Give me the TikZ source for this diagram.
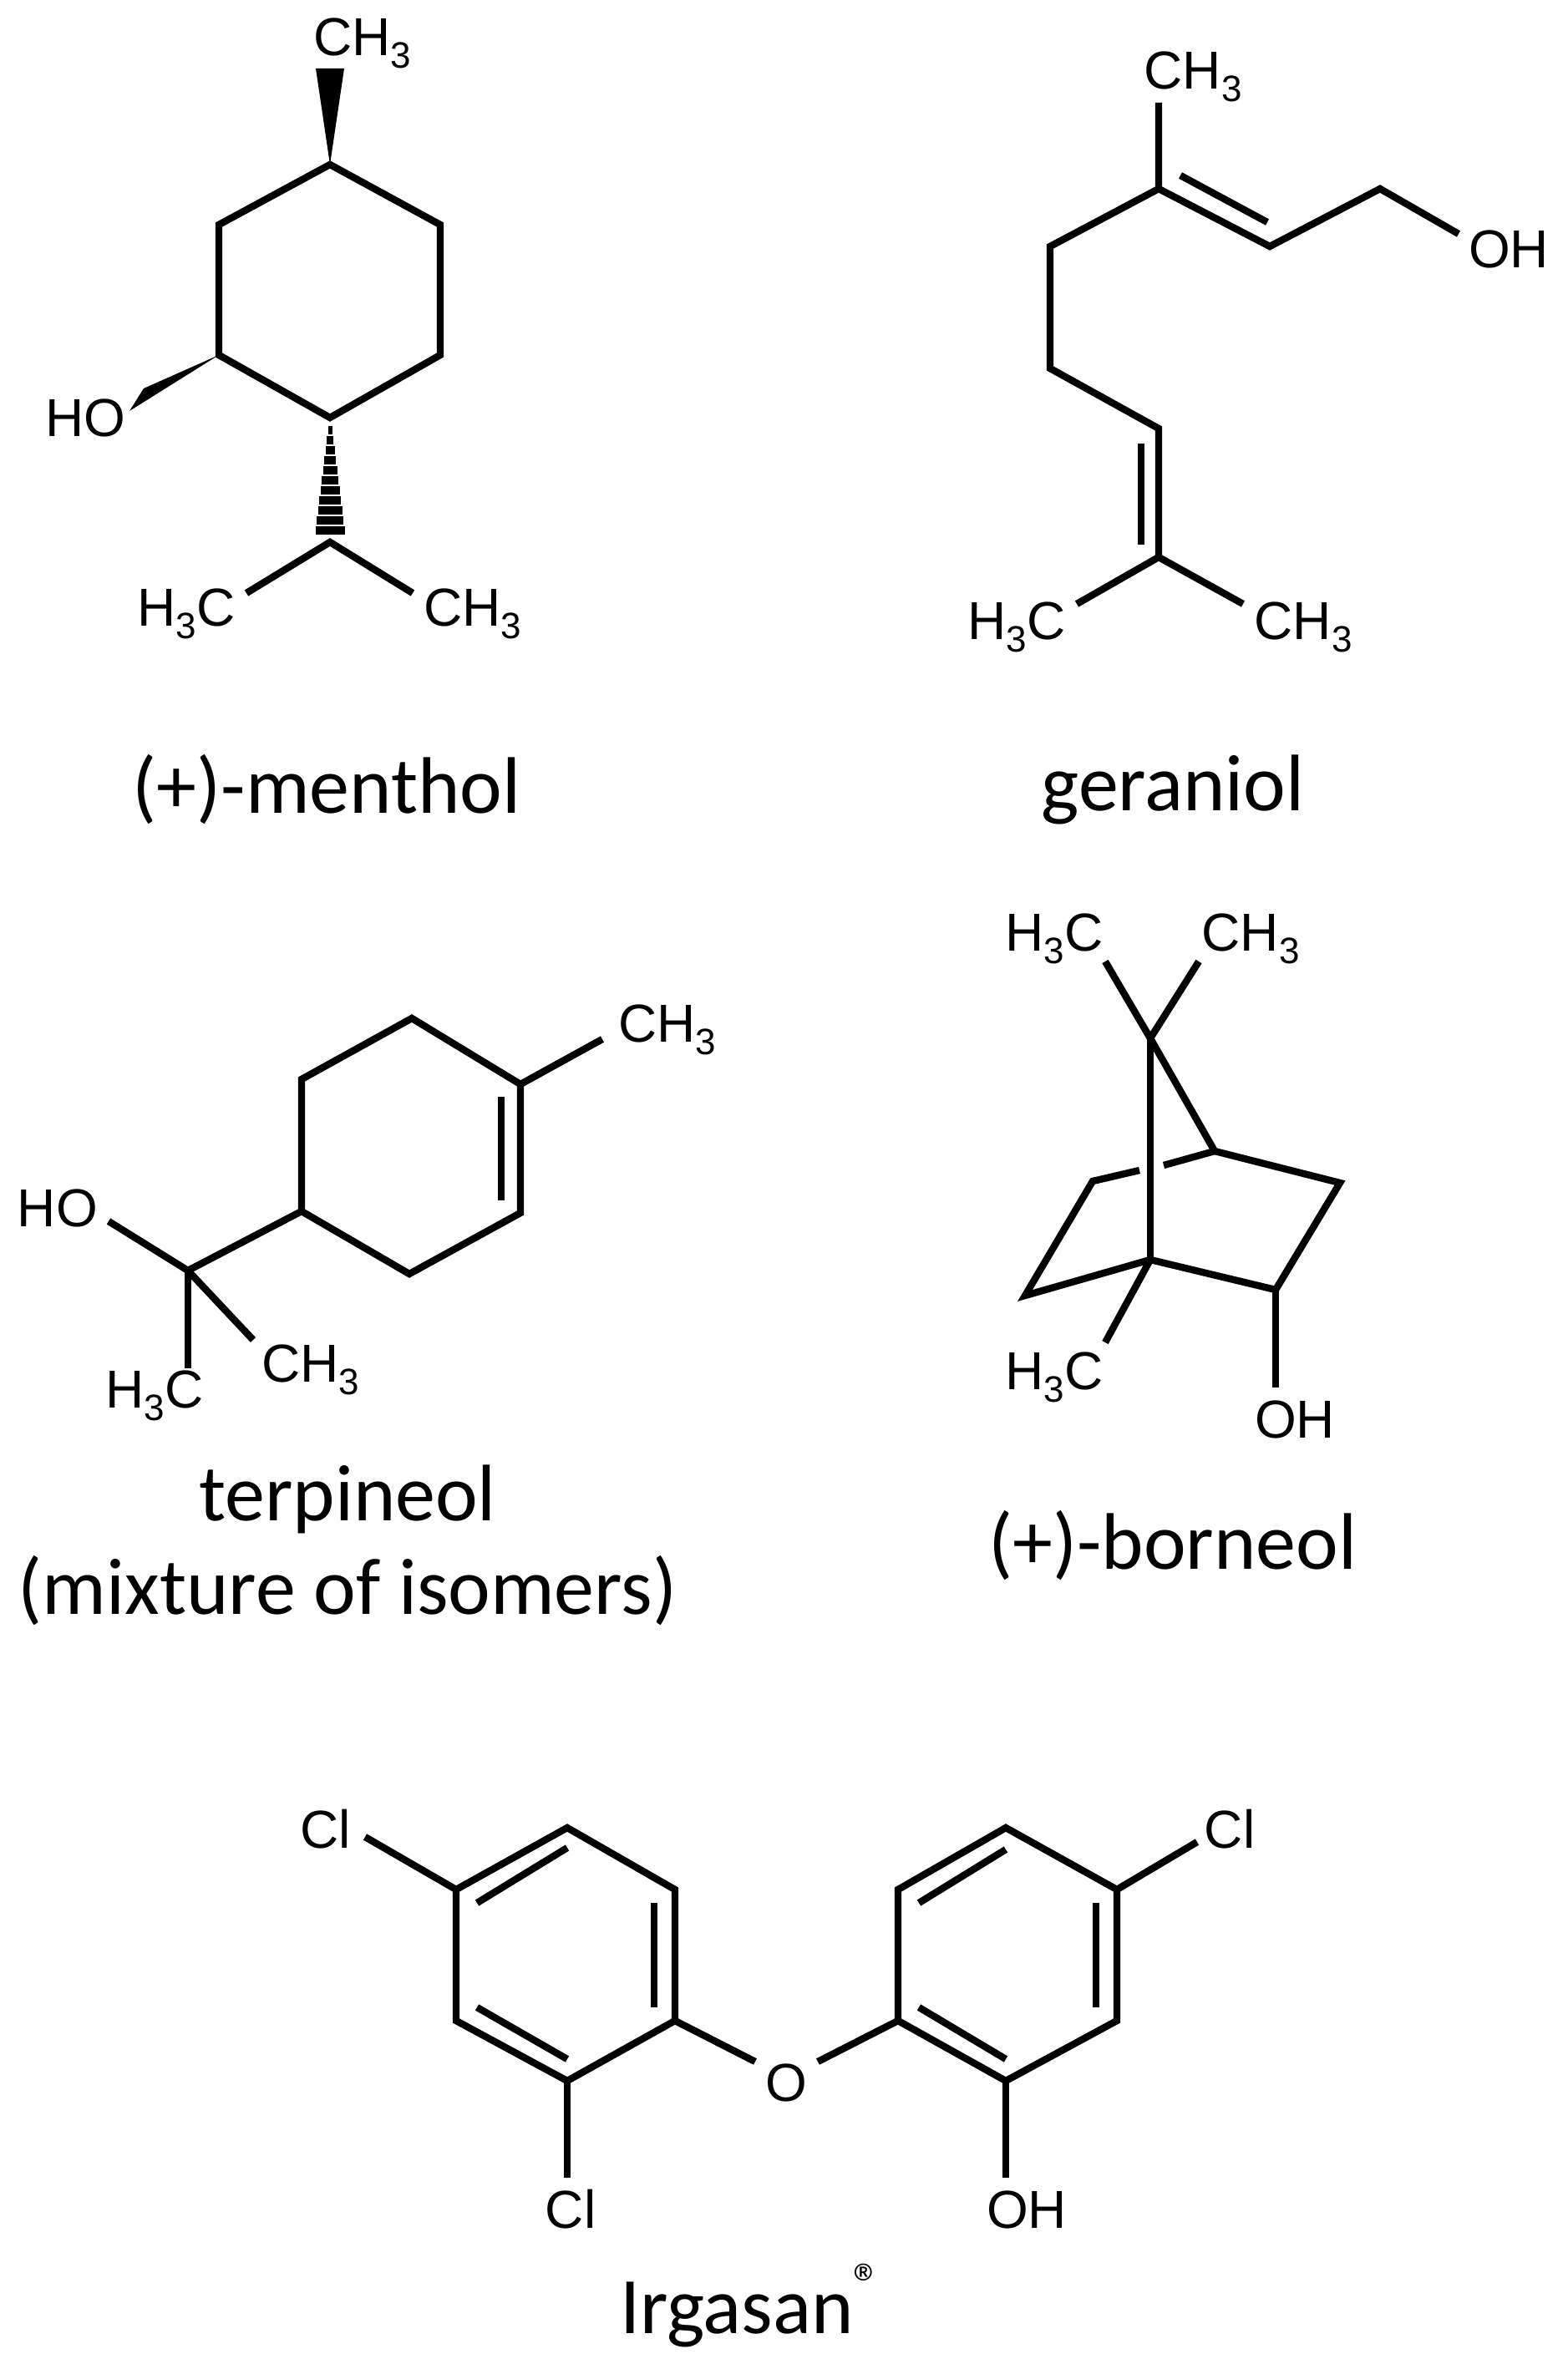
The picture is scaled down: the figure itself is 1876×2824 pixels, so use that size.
\documentclass[tikz,border=0pt]{standalone}
\usepackage{fontspec}
\setmainfont{Liberation Sans}
\newfontfamily\capfont{Carlito}
\newcommand{\lsub}[1]{\raisebox{-0.45ex}{\fontsize{11pt}{11pt}\selectfont #1}}
\begin{document}
\begin{tikzpicture}[x=0.25pt,y=-0.25pt,
  bond/.style={line width=2.1pt,line cap=butt,line join=miter},
  lab/.style={font=\fontsize{16pt}{16pt}\selectfont,inner sep=0pt},
  capt/.style={font=\capfont\fontsize{24pt}{28pt}\selectfont,inner sep=0pt,align=center}]
\useasboundingbox (0,0) rectangle (1876,2824);
% ---------- menthol ----------
\coordinate (m1) at (395,197); \coordinate (m2) at (527,269); \coordinate (m3) at (527,425);
\coordinate (m4) at (395,500); \coordinate (m5) at (262,425); \coordinate (m6) at (262,269);
\coordinate (mi) at (395,649);
\draw[bond] (m1)--(m2)--(m3)--(m4)--(m5)--(m6)--cycle;
\fill (m1) -- (378,82) -- (412,82) -- cycle;
\fill (m5) -- (172,465) -- (155,492) -- cycle;
\foreach \t in {0,1,...,10}{\draw[line width=2.6pt] ({395-2.5-1.5*\t},{515+12*\t}) -- ({395+2.5+1.5*\t},{515+12*\t});}
\draw[bond] (295,710) -- (mi) -- (494,710);
\node[lab] (mch3) at (434,52) {CH\lsub{3}};
\node[lab] (mho) at (102,500) {HO};
\node[lab] (mh3c) at (223,735) {H\lsub{3}C};
\node[lab] (mch3b) at (566,735) {CH\lsub{3}};
\node[capt] (cmen) at (391,945) {(+)-menthol};
% ---------- geraniol ----------
\coordinate (g3) at (1387,226); \coordinate (g2) at (1520,295); \coordinate (g1) at (1652,226);
\coordinate (g4) at (1257,295); \coordinate (g5) at (1257,441); \coordinate (g6) at (1387,513);
\coordinate (g7) at (1387,667);
\draw[bond] (1387,123) -- (g3) -- (g2) -- (g1) -- (1746,280);
\draw[bond] (g3) -- (g4) -- (g5) -- (g6) -- (g7);
\draw[bond] (1413,210) -- (1517,266);
\draw[bond] (1366,531) -- (1366,652);
\draw[bond] (1289,723) -- (g7) -- (1488,723);
\node[lab] (gch3) at (1428,92) {CH\lsub{3}};
\node[lab] (goh) at (1806,298) {OH};
\node[lab] (gh3c) at (1217,751) {H\lsub{3}C};
\node[lab] (gch3b) at (1560,751) {CH\lsub{3}};
\node[capt] (cger) at (1404,945) {geraniol};
% ---------- terpineol ----------
\coordinate (t1) at (493,1219); \coordinate (t2) at (623,1298); \coordinate (t3) at (623,1452);
\coordinate (t4) at (490,1525); \coordinate (t5) at (361,1450); \coordinate (t6) at (361,1292);
\coordinate (tq) at (225,1521);
\draw[bond] (t1)--(t2)--(t3)--(t4)--(t5)--(t6)--cycle;
\draw[bond] (600,1313) -- (600,1437);
\draw[bond] (t2) -- (721,1244);
\draw[bond] (t5) -- (tq) -- (130,1462);
\draw[bond] (tq) -- (303,1604);
\draw[bond] (tq) -- (225,1638);
\node[lab] (tch3) at (799,1233) {CH\lsub{3}};
\node[lab] (tho) at (69,1446) {HO};
\node[lab] (tch3b) at (372,1640) {CH\lsub{3}};
\node[lab] (th3c) at (185,1671) {H\lsub{3}C};
\node[capt] (cter) at (416,1850) {terpineol\\(mixture of isomers)};
% ---------- borneol ----------
\coordinate (b7) at (1377,1243); \coordinate (b1) at (1454,1378); \coordinate (b4) at (1377,1508);
\coordinate (b2) at (1604,1416); \coordinate (b3) at (1527,1544);
\coordinate (b5) at (1308,1414); \coordinate (b6) at (1227,1551);
\draw[bond] (1323,1151) -- (b7) -- (1435,1151);
\draw[bond] (b7) -- (b4);
\draw[bond] (b7) -- (b1) -- (b2) -- (b3) -- (b4);
\draw[bond] (b3) -- (1527,1661);
\draw[bond] (b4) -- (b6) -- (b5) -- (1364,1401);
\draw[bond] (1393,1395) -- (b1);
\draw[bond] (b4) -- (1323,1607);
\node[lab] (bh3c) at (1262,1124) {H\lsub{3}C};
\node[lab] (bch3) at (1497,1124) {CH\lsub{3}};
\node[lab] (bh3c2) at (1262,1649) {H\lsub{3}C};
\node[lab] (boh) at (1550,1699) {OH};
\node[capt] (cbor) at (1404,1850) {(+)-borneol};
% ---------- Irgasan ----------
\coordinate (a1) at (679,2188); \coordinate (a2) at (808,2262); \coordinate (a3) at (808,2419);
\coordinate (a4) at (679,2491); \coordinate (a5) at (546,2419); \coordinate (a6) at (546,2262);
\draw[bond] (a1)--(a2)--(a3)--(a4)--(a5)--(a6)--cycle;
\draw[bond] (571,2278) -- (679,2212);
\draw[bond] (783,2278) -- (783,2403);
\draw[bond] (571,2403) -- (679,2465);
\coordinate (r1) at (1204,2188); \coordinate (r2) at (1337,2262); \coordinate (r3) at (1337,2419);
\coordinate (r4) at (1204,2491); \coordinate (r5) at (1075,2419); \coordinate (r6) at (1075,2262);
\draw[bond] (r1)--(r2)--(r3)--(r4)--(r5)--(r6)--cycle;
\draw[bond] (1100,2278) -- (1204,2214);
\draw[bond] (1312,2278) -- (1312,2403);
\draw[bond] (1100,2403) -- (1204,2465);
\draw[bond] (a6) -- (437,2199);
\draw[bond] (a4) -- (679,2607);
\draw[bond] (a3) -- (904,2468);
\draw[bond] (979,2468) -- (r5);
\draw[bond] (r2) -- (1433,2205);
\draw[bond] (r4) -- (1204,2607);
\node[lab] (icl1) at (390,2190) {Cl};
\node[lab] (icl2) at (683,2645) {Cl};
\node[lab] (io) at (941,2493) {O};
\node[lab] (icl3) at (1472,2190) {Cl};
\node[lab] (ioh) at (1229,2645) {OH};
\node[capt] (cirg) at (900,2760) {Irgasan\textsuperscript{\textregistered}};
\end{tikzpicture}
\end{document}
